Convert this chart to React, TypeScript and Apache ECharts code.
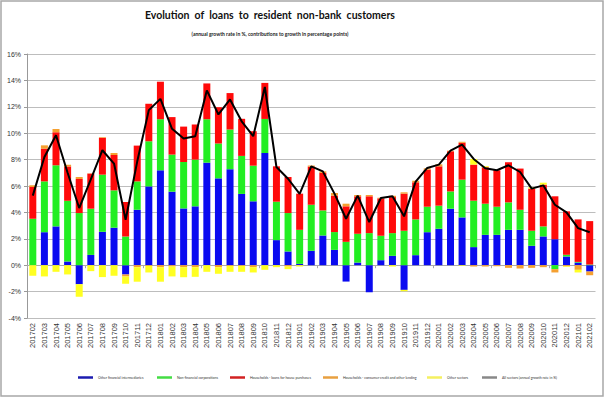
import React, { useEffect, useRef } from "react";
import * as echarts from "echarts";

const categories = [
  "201702", "201703", "201704", "201705", "201706", "201707", "201708", "201709", "201710", "201711", "201712",
  "201801", "201802", "201803", "201804", "201805", "201806", "201807", "201808", "201809", "201810", "201811", "201812",
  "201901", "201902", "201903", "201904", "201905", "201906", "201907", "201908", "201909", "201910", "201911", "201912",
  "202001", "202002", "202003", "202004", "202005", "202006", "202007", "202008", "202009", "202010", "202011", "202012",
  "202101", "202102",
];

const otherFinancial = [
  0, 2.5, 2.94, 0.28, -1.44, 0.78, 2.53, 2.84, -0.7, 4.2, 5.97,
  7.19, 5.57, 4.3, 4.46, 7.77, 6.58, 7.27, 5.4, 4.84, 8.5, 1.9, 1.04,
  0.1, 1.09, 2.25, 1.16, -1.24, 0.2, -2.05, 0.38, 0.71, -1.87, 0.76, 2.5,
  2.76, 4.28, 3.62, 1.37, 2.3, 2.3, 2.68, 2.68, 1.47, 2.18, 1.97, 0.66,
  0.2, -0.48,
];

const nonFinancial = [
  3.52, 3.85, 4.63, 4.6, 3.95, 3.5, 4.33, 2.83, 2.18, 2.15, 3.42,
  3.87, 2.81, 3.52, 3.54, 3.29, 2.64, 3.01, 2.88, 2.7, 2.58, 2.91, 2.91,
  2.58, 3.49, 1.9, 1.35, 1.77, 2.18, 2.43, 1.85, 1.72, 2.61, 2.71, 1.93,
  1.75, 1.31, 2.86, 3.52, 2.36, 2.13, 2.08, 1.52, 1.14, 0.76, -0.3, 0.13,
  0.05, 0.05,
];

const housePurchase = [
  2.4, 2.48, 2.5, 2.6, 2.58, 2.66, 2.79, 2.68, 2.6, 2.71, 2.84,
  2.84, 2.84, 2.68, 2.66, 2.71, 2.75, 2.76, 2.81, 2.61, 2.73, 2.68, 2.73,
  2.74, 2.89, 2.84, 2.76, 2.69, 2.84, 2.79, 2.83, 2.73, 2.81, 2.81, 2.81,
  2.98, 3.04, 2.79, 2.73, 2.76, 2.76, 3.04, 3.12, 3.19, 3.16, 3.25, 3.29,
  3.22, 3.29,
];

const consumerCredit = [
  0.13, 0.25, 0.25, 0.13, 0.15, 0.02, 0.05, 0.15, -0.15, -0.15, -0.05,
  -0.15, -0.1, -0.15, -0.15, 0, -0.15, -0.05, -0.05, -0.15, 0, 0, -0.1,
  0, 0.08, 0.12, 0.2, 0.2, 0.1, 0.1, 0.05, 0.1, 0.1, 0.12, 0.1,
  0.15, 0.05, 0.08, -0.1, -0.1, -0.08, -0.2, -0.25, -0.2, -0.15, -0.25, -0.08,
  -0.35, -0.28,
];

const otherSectors = [
  -0.8, -0.85, -0.5, -0.7, -0.95, -0.45, -0.9, -0.8, -0.55, -1.1, -0.5,
  -1.1, -0.75, -0.76, -0.73, -0.5, -0.5, -0.45, -0.45, -0.4, -0.35, -0.15, -0.2,
  -0.1, 0, 0, 0, 0, 0, 0, 0, -0.1, -0.1, 0, 0,
  0, 0, -0.05, 0.43, 0.08, 0, 0, 0, 0.1, 0.15, 0, -0.05,
  -0.2, 0,
];

const allSectors = [
  5.27, 8.2, 9.85, 7.0, 4.33, 6.5, 8.71, 7.7, 3.44, 7.85, 11.75,
  12.6, 10.33, 9.6, 9.77, 13.24, 11.42, 12.56, 10.9, 9.77, 13.5, 7.44, 6.55,
  5.4, 7.49, 7.11, 5.42, 3.52, 5.27, 3.27, 5.09, 5.22, 3.7, 6.33, 7.37,
  7.62, 8.68, 9.14, 8.05, 7.34, 7.19, 7.57, 7.06, 5.8, 6.05, 4.58, 4.0,
  2.81, 2.5,
];

const seriesNames = [
  "Other financial intermediaries",
  "Non-financial corporations",
  "Households - loans for house purchases",
  "Households - consumer credit and other lending",
  "Other sectors",
  "All sectors (annual growth rate in %)",
];

const barColors = ["#0a0af0", "#22ee22", "#ff0a0a", "#f5a030", "#ffff22"];
const legendIconColors = ["#1c1cb0", "#44dd44", "#d22222", "#e8a040", "#f5f060", "#888888"];
const legendLefts = [78, 157, 230, 323, 427, 482];

const FONT = "Lato, 'Liberation Sans', sans-serif";

export default function App() {
  const ref = useRef<HTMLDivElement>(null);

  useEffect(() => {
    document.body.style.margin = "0";
    const chart = echarts.init(ref.current as HTMLDivElement, null, { renderer: "svg" });
    const barData = [otherFinancial, nonFinancial, housePurchase, consumerCredit, otherSectors];

    const series: any[] = barData.map((d, i) => ({
      name: seriesNames[i],
      type: "bar",
      stack: "total",
      data: d,
      barWidth: 7,
      xAxisIndex: 0,
      itemStyle: { color: barColors[i] },
    }));
    series.push({
      name: seriesNames[5],
      type: "line",
      data: allSectors,
      xAxisIndex: 0,
      symbol: "none",
      z: 10,
      lineStyle: { color: "#000", width: 2 },
      itemStyle: { color: "#000" },
    });

    chart.setOption({
      animation: false,
      backgroundColor: "#fff",
      title: [
        {
          text: "Evolution  of  loans  to  resident  non-bank  customers",
          left: 270,
          top: 9,
          textAlign: "center",
          padding: 0,
          textStyle: { fontSize: 10.5, fontWeight: "bold", color: "#111", fontFamily: FONT },
        },
        {
          text: "(annual growth rate in %, contributions to growth in percentage points)",
          left: 270,
          top: 31.5,
          textAlign: "center",
          padding: 0,
          textStyle: { fontSize: 5, fontWeight: "bold", color: "#222", fontFamily: FONT },
        },
      ],
      legend: seriesNames.map((n, i) => ({
        data: [{ name: n, itemStyle: { color: legendIconColors[i] } }],
        left: legendLefts[i],
        top: 375.5,
        padding: 0,
        icon: "rect",
        itemWidth: 15,
        itemHeight: 2.5,
        selectedMode: false,
        textStyle: { fontSize: 3.5, color: "#333", fontFamily: FONT },
      })),
      graphic: [
        {
          type: "rect",
          shape: { x: 1, y: 1, width: 602, height: 395 },
          style: { fill: "none", stroke: "#a8a8a8", lineWidth: 1.5 },
          silent: true,
        },
      ],
      grid: {
        left: 27,
        right: 12.5,
        top: 54,
        bottom: 79,
        containLabel: false,
        outerBoundsMode: "none",
      },
      xAxis: [
        {
          type: "category",
          data: categories,
          position: "bottom",
          axisLine: { show: false, onZero: false },
          axisTick: { show: false },
          axisLabel: {
            rotate: 90,
            interval: 0,
            fontSize: 7.5,
            color: "#333",
            margin: 5,
            fontFamily: "'Liberation Sans', sans-serif",
          },
          splitLine: { show: false },
        },
        {
          type: "category",
          data: categories,
          position: "bottom",
          axisLine: { show: true, onZero: true, lineStyle: { color: "#aaa", width: 1 } },
          axisTick: { show: true, length: 3, lineStyle: { color: "#aaa" } },
          axisLabel: { show: false },
          splitLine: { show: false },
        },
      ],
      yAxis: {
        type: "value",
        min: -4,
        max: 16,
        interval: 2,
        axisLine: { show: true, lineStyle: { color: "#999" } },
        axisTick: { show: true, length: 3, lineStyle: { color: "#999" } },
        axisLabel: {
          formatter: "{value}%",
          fontSize: 7,
          color: "#333",
          margin: 6,
          fontFamily: "'Liberation Sans', sans-serif",
        },
        splitLine: { lineStyle: { color: "#bdbdbd", width: 1 } },
      },
      series,
    });

    return () => chart.dispose();
  }, []);

  return <div ref={ref} style={{ width: 608, height: 397 }} />;
}
